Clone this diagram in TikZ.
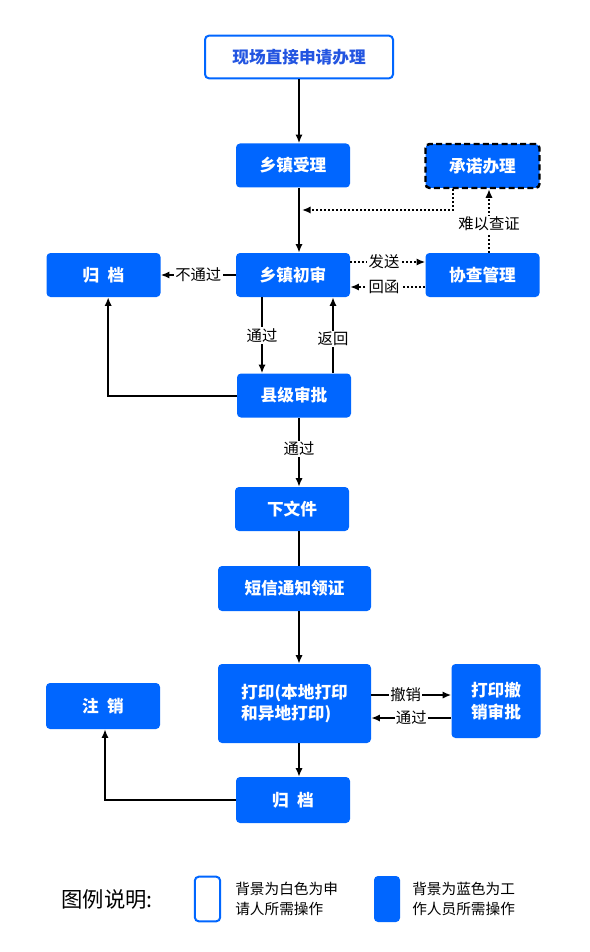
\documentclass[tikz,border=0pt]{standalone}
\usepackage{fontspec}
\setmainfont{Noto Sans CJK SC}
\usetikzlibrary{arrows.meta}

\definecolor{boxblue}{RGB}{0,102,255}
\definecolor{textblue}{RGB}{35,85,225}

\tikzset{
  staff box/.style={
    rectangle, rounded corners=3pt, fill=boxblue, text=white,
    font=\bfseries\fontsize{12.5}{16}\selectfont,
    inner sep=0pt, minimum width=85.5pt, minimum height=33pt
  },
  applicant box/.style={
    rectangle, rounded corners=3pt, draw=boxblue, line width=1.5pt,
    fill=white, text=textblue,
    font=\bfseries\fontsize{12.5}{16}\selectfont,
    inner sep=0pt, minimum width=141pt, minimum height=32pt
  },
  flow line/.style={line width=1.5pt},
  check line/.style={line width=1.5pt, dash pattern=on 1.5pt off 1.5pt},
  flow label/.style={fill=white, inner sep=1pt, font=\fontsize{11.5}{13}\selectfont},
}

\begin{document}
\begin{tikzpicture}[x=0.75pt, y=-0.75pt, >={Latex[length=6.5pt,width=5.5pt]}]
  \useasboundingbox (0,0) rectangle (589,952);

  % boxes
  \node (apply) [applicant box] at (299,57) {现场直接申请办理};
  \node (town accept) [staff box] at (293,165.5) {乡镇受理};
  \node (promise) [staff box, draw=black, line width=1.8pt,
    dash pattern=on 4.5pt off 2.5pt] at (482.5,166) {承诺办理};
  \node (town review) [staff box] at (293,275) {乡镇初审};
  \node (joint check) [staff box] at (482.5,275) {协查管理};
  \node (archive one) [staff box] at (103.5,275) {归\hspace{0.5em}档};
  \node (county approve) [staff box] at (294,395.5) {县级审批};
  \node (issue doc) [staff box] at (292,509) {下文件};
  \node (sms) [staff box, minimum width=114.75pt, minimum height=33.75pt]
    at (294.5,588.5) {短信通知领证};
  \node (print) [staff box, minimum width=114.75pt, minimum height=59.25pt,
    align=left] at (294.5,703.5) {打印(本地打印\\和异地打印)};
  \node (revoke) [staff box, minimum width=66.75pt, minimum height=55.5pt,
    align=left] at (496,701) {打印撤\\销审批};
  \node (cancel) [staff box, minimum height=34.5pt] at (103,706) {注\hspace{0.5em}销};
  \node (archive two) [staff box, minimum height=34.5pt] at (293,800) {归\hspace{0.5em}档};

  % main line
  \draw [flow line, ->]
    (apply.south) -- (apply.south |- town accept.north)
  ;
  \draw [flow line, ->]
    (town accept.south -| apply) -- (town review.north -| apply)
  ;
  \draw [flow line, ->]
    (county approve.south -| apply) -- (issue doc.north -| apply)
      node [flow label, pos=0.45] {通过}
  ;
  \draw [flow line]
    (issue doc.south -| apply) -- (sms.north -| apply)
  ;
  \draw [flow line, ->]
    (sms.south -| apply) -- (print.north -| apply)
  ;
  \draw [flow line, ->]
    (print.south -| apply) -- (archive two.north -| apply)
  ;

  % check loop
  \coordinate (merge) at (302,210);
  \draw [check line, ->]
    (453,0 |- promise.south) |- (merge)
  ;
  \draw [check line, ->]
    (489,0 |- joint check.north) -- (489,0 |- promise.south)
      node [flow label, pos=0.45] {难以查证}
  ;
  \draw [check line, ->]
    (town review.east |- 0,262) -- (joint check.west |- 0,262)
      node [flow label, pos=0.45] {发送}
  ;
  \draw [check line, ->]
    (joint check.west |- 0,287) -- (town review.east |- 0,287)
      node [flow label, pos=0.55] {回函}
  ;

  % review
  \draw [flow line, ->]
    (town review.west) -- (archive one.east)
      node [flow label, pos=0.5] {不通过}
  ;
  \draw [flow line, ->]
    (262,0 |- town review.south) -- (262,0 |- county approve.north)
      node [flow label, pos=0.5] {通过}
  ;
  \draw [flow line, ->]
    (333,0 |- county approve.north) -- (333,0 |- town review.south)
      node [flow label, pos=0.45] {返回}
  ;
  \draw [flow line, ->]
    (county approve.west) -| ([xshift=3.5pt]archive one.south)
  ;

  % print
  \draw [flow line, ->]
    (print.east |- 0,695) -- (revoke.west |- 0,695)
      node [flow label, pos=0.43] {撤销}
  ;
  \draw [flow line, ->]
    (revoke.west |- 0,718) -- (print.east |- 0,718)
      node [flow label, pos=0.5] {通过}
  ;
  \draw [flow line, ->]
    (archive two.west) -| ([xshift=1.5pt]cancel.south)
  ;

  % legend
  \node (legend title) [font=\fontsize{16}{18}\selectfont] at (107,899) {图例说明:};
  \node (white key) [rectangle, rounded corners=3pt, draw=boxblue, line width=1.5pt,
    minimum width=19pt, minimum height=33.5pt, inner sep=0pt] at (207.5,899) {};
  \node (white note) [anchor=west, align=left, inner sep=0pt,
    font=\fontsize{11}{15}\selectfont] at (235,899) {背景为白色为申\\请人所需操作};
  \node (blue key) [rectangle, rounded corners=3pt, fill=boxblue,
    minimum width=19.5pt, minimum height=34.5pt, inner sep=0pt] at (387,899) {};
  \node (blue note) [anchor=west, align=left, inner sep=0pt,
    font=\fontsize{11}{15}\selectfont] at (412,899) {背景为蓝色为工\\作人员所需操作};
\end{tikzpicture}
\end{document}
